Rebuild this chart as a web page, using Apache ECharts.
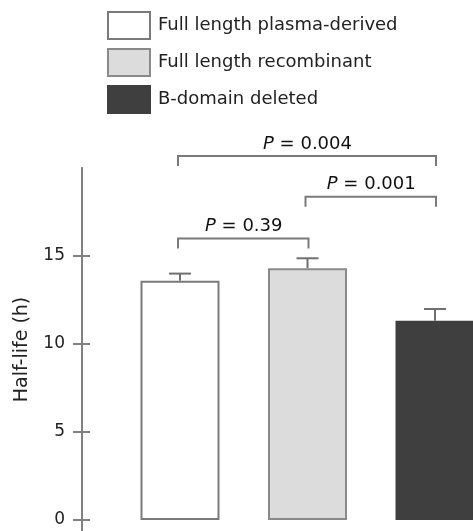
<!DOCTYPE html>
<html>
<head>
<meta charset="utf-8">
<script src="https://cdn.jsdelivr.net/npm/echarts@6/dist/echarts.min.js"></script>
<style>
  html, body { margin: 0; padding: 0; background: #fff; }
  #chart { width: 473px; height: 531px; }
</style>
</head>
<body>
<div id="chart"></div>
<script>
// groups and their values (half-life, hours)
const groups = ['Full length plasma-derived', 'Full length recombinant', 'B-domain deleted'];
const means = [13.6, 14.3, 11.32];
const errs = [0.4, 0.57, 0.67];
const yTicks = [0, 5, 10, 15];

// significance brackets: from group, to group, bracket height, label
const bracketFrom = [0, 1, 0];
const bracketTo = [2, 2, 1];
const bracketY = [20.68, 18.37, 16.0];
const bracketP = ['0.004', '0.001', '0.39'];

const fills = ['#ffffff', '#dcdcdc', '#3f3f3f'];
const borders = ['#7a7a7a', '#8a8a8a', '#3f3f3f'];
const FONT = 'DejaVu Sans';

const chart = echarts.init(document.getElementById('chart'));

// one bar series per group so each gets its own legend entry
const barSeries = groups.map((g, i) => ({
  name: g,
  type: 'bar',
  barWidth: 79,
  barGap: '-100%',
  data: [[i, means[i]]],
  itemStyle: { color: fills[i], borderColor: borders[i], borderWidth: 2 },
  emphasis: { disabled: true },
}));

const axisStyle = { color: '#808080', width: 2 };

const option = {
  animation: false,
  legend: {
    orient: 'vertical',
    left: 102,
    top: 6,
    icon: 'rect',
    itemWidth: 42,
    itemHeight: 27,
    itemGap: 8,
    data: groups,
    textStyle: { fontFamily: FONT, fontSize: 18, lineHeight: 27, color: '#222', padding: [0, 0, 0, 3] },
  },
  grid: { left: 82, right: 0, top: 168, bottom: 0 },
  xAxis: {
    type: 'value',
    min: -0.7686,
    max: 2.298,
    show: false,
  },
  yAxis: [{
    type: 'value',
    min: -0.625,
    max: 20,
    axisLine: { show: true, onZero: false, lineStyle: axisStyle },
    axisTick: { show: true, length: 9, customValues: yTicks, lineStyle: axisStyle },
    axisLabel: { customValues: yTicks, margin: 17, fontFamily: FONT, fontSize: 17, color: '#222' },
    splitLine: { show: false },
    name: 'Half-life (h)',
    nameLocation: 'middle',
    nameGap: 50,
    nameTextStyle: { fontFamily: FONT, fontSize: 19, color: '#222' },
  }, {
    // second copy of the axis: ticks on the inner side
    type: 'value',
    min: -0.625,
    max: 20,
    position: 'left',
    axisLine: { show: true, onZero: false, lineStyle: axisStyle },
    axisTick: { show: true, inside: true, length: 8, customValues: yTicks, lineStyle: axisStyle },
    axisLabel: { show: false },
    splitLine: { show: false },
  }],
  series: barSeries.concat([{
    // error bars (upper half only)
    type: 'custom',
    z: 5,
    data: means.map((m, i) => [i, m, errs[i]]),
    renderItem: (params, api) => {
      const i = api.value(0);
      const base = api.coord([i, api.value(1)]);
      const top = api.coord([i, api.value(1) + api.value(2)]);
      const st = { stroke: '#707070', lineWidth: 2 };
      return {
        type: 'group',
        children: [
          { type: 'line', shape: { x1: base[0], y1: base[1], x2: top[0], y2: top[1] }, style: st },
          { type: 'line', shape: { x1: top[0] - 11, y1: top[1], x2: top[0] + 11, y2: top[1] }, style: st },
        ],
      };
    },
  }, {
    // significance brackets with P labels
    type: 'custom',
    z: 5,
    clip: false,
    data: bracketY.map((y, k) => [bracketFrom[k], bracketTo[k], y, k]),
    encode: { x: [0, 1], y: 2 },
    renderItem: (params, api) => {
      const y = api.value(2);
      const a = api.coord([api.value(0), y]);
      const b = api.coord([api.value(1), y]);
      const leg = 10;
      const k = api.value(3);
      return {
        type: 'group',
        children: [
          {
            type: 'polyline',
            shape: { points: [[a[0] - 2, a[1] + leg], [a[0] - 2, a[1]], [b[0] + 1, b[1]], [b[0] + 1, b[1] + leg]] },
            style: { stroke: '#7a7a7a', lineWidth: 2, fill: null },
          },
          {
            type: 'text',
            x: (a[0] + b[0]) / 2,
            y: a[1] - 12,
            style: {
              text: '{i|P} = ' + bracketP[k],
              align: 'center',
              verticalAlign: 'middle',
              fontFamily: FONT,
              fontSize: 18,
              fill: '#111',
              rich: { i: { fontStyle: 'italic', fontFamily: FONT, fontSize: 18, fill: '#111' } },
            },
          },
        ],
      };
    },
  }]),
};

chart.setOption(option);
</script>
</body>
</html>
